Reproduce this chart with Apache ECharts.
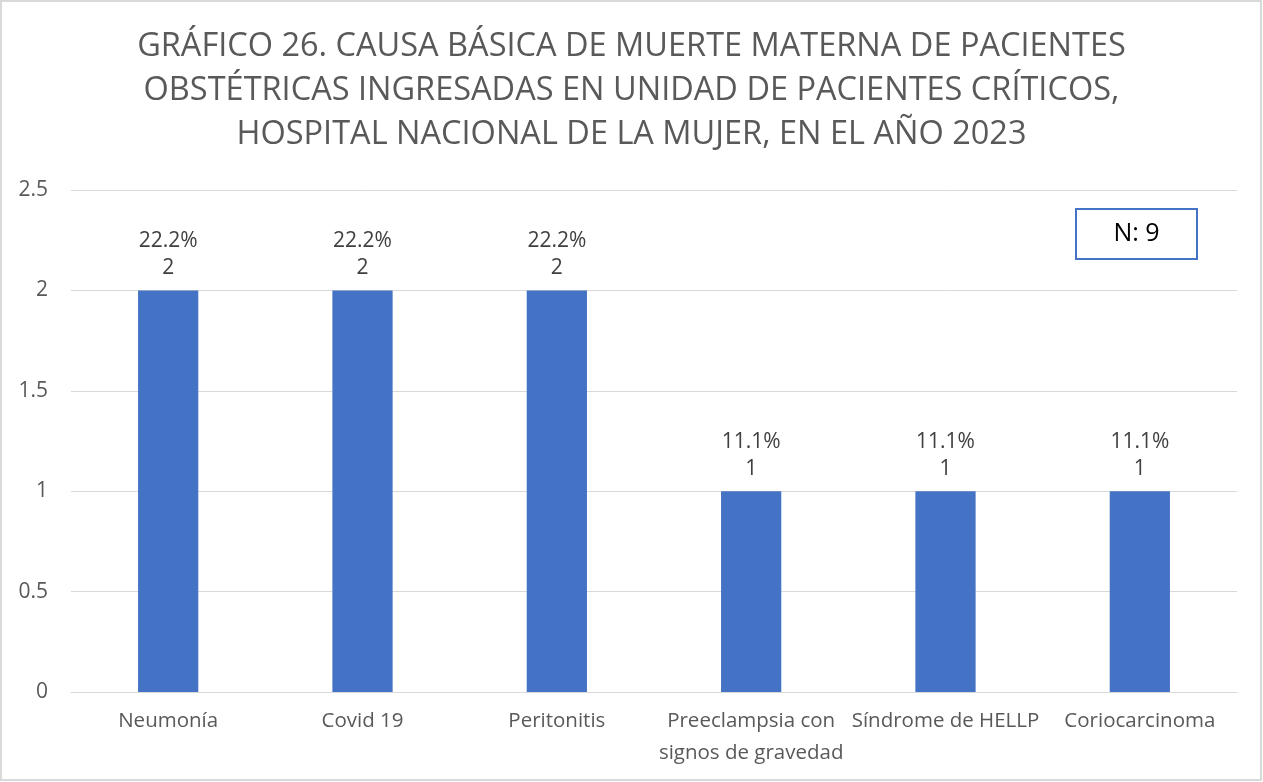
<!DOCTYPE html>
<html>
<head>
<meta charset="utf-8">
<script src="https://cdn.jsdelivr.net/npm/echarts@6/dist/echarts.min.js"></script>
<style>
  html, body { margin: 0; padding: 0; background: #fff; }
  #chart { width: 1263px; height: 782px; }
</style>
</head>
<body>
<div id="chart"></div>
<script>
var categories = ['Neumonía', 'Covid 19', 'Peritonitis', 'Preeclampsia con\nsignos de gravedad', 'Síndrome de HELLP', 'Coriocarcinoma'];
var values = [2, 2, 2, 1, 1, 1];
var percents = ['22.2%', '22.2%', '22.2%', '11.1%', '11.1%', '11.1%'];
var yTicks = { min: 0, max: 2.5, interval: 0.5 };

var myChart = echarts.init(document.getElementById('chart'));
var option = {
    animation: false,
    title: {
        text: 'GRÁFICO 26. CAUSA BÁSICA DE MUERTE MATERNA DE PACIENTES\nOBSTÉTRICAS INGRESADAS EN UNIDAD DE PACIENTES CRÍTICOS,\nHOSPITAL NACIONAL DE LA MUJER, EN EL AÑO 2023',
        left: 'center',
        top: 20,
        textStyle: {
            fontFamily: 'Open Sans',
            fontSize: 32.5,
            fontWeight: 'normal',
            color: '#595959',
            lineHeight: 44
        }
    },
    grid: { left: 71, right: 26, top: 190, bottom: 90 },
    xAxis: {
        type: 'category',
        data: categories,
        axisTick: { show: false },
        axisLine: { lineStyle: { color: '#d9d9d9' } },
        axisLabel: {
            color: '#595959',
            fontFamily: 'Open Sans',
            fontSize: 20.5,
            lineHeight: 32,
            margin: 13,
            interval: 0
        }
    },
    yAxis: {
        type: 'value',
        min: yTicks.min,
        max: yTicks.max,
        interval: yTicks.interval,
        axisLine: { show: false },
        axisTick: { show: false },
        splitLine: { lineStyle: { color: '#d9d9d9' } },
        axisLabel: {
            color: '#595959',
            fontFamily: 'Open Sans',
            fontSize: 21,
            margin: 23
        }
    },
    series: [{
        type: 'bar',
        data: values,
        barWidth: '31%',
        itemStyle: { color: '#4472C4' },
        label: {
            show: true,
            position: 'top',
            distance: 9,
            color: '#404040',
            fontFamily: 'Open Sans',
            fontSize: 21,
            lineHeight: 27,
            formatter: function (p) {
                return percents[p.dataIndex] + '\n' + p.value;
            }
        }
    }],
    graphic: [
        {
            type: 'rect',
            shape: { x: 1, y: 1, width: 1260, height: 779 },
            style: { fill: 'none', stroke: '#d9d9d9', lineWidth: 2 }
        },
        {
            type: 'rect',
            shape: { x: 1076, y: 209, width: 121, height: 50 },
            style: { fill: '#fff', stroke: '#4472C4', lineWidth: 2 }
        },
        {
            type: 'text',
            x: 1136.5,
            y: 234,
            style: {
                text: 'N: 9',
                fill: '#000',
                font: '25px "Open Sans"',
                textAlign: 'center',
                textVerticalAlign: 'middle'
            }
        }
    ]
};
myChart.setOption(option);
</script>
</body>
</html>
